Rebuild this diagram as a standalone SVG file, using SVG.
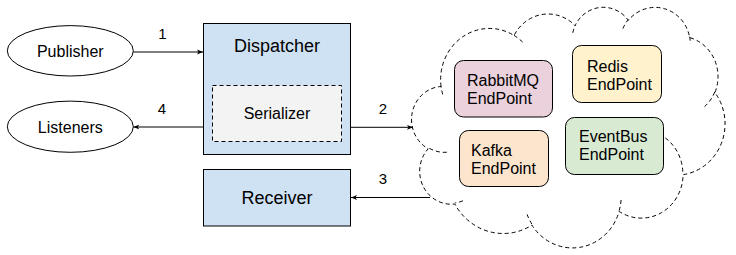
<svg xmlns="http://www.w3.org/2000/svg" width="736" height="255" viewBox="0 0 736 255">
  <defs>
    <style>
      .box { stroke: #000; stroke-width: 1; }
      .ell { fill: #fff; stroke: #000; stroke-width: 1; }
      .dash { fill: none; stroke: #000; stroke-width: 1; stroke-dasharray: 4 3; }
      .lbl { font-family: "Liberation Sans", Arial, sans-serif; fill: #000; }
      .c { text-anchor: middle; }
      .f16 { font-size: 16px; }
      .f18 { font-size: 18px; }
      .num { font-size: 15px; text-anchor: middle; }
      .conn { fill: none; stroke: #000; stroke-width: 1; marker-end: url(#arrow); }
    </style>
    <marker id="arrow" viewBox="0 0 10 10" refX="10" refY="5" markerWidth="6" markerHeight="6" orient="auto" markerUnits="userSpaceOnUse">
      <path d="M0,1 L10,5 L0,9 L2.5,5 Z" fill="#000"/>
    </marker>
  </defs>

  <rect width="736" height="255" fill="#fff"/>

  <!-- Message bus cloud holding the transport endpoints -->
  <g id="cloud">
    <path class="dash" style="fill:#fff" d="M441.07,86.5 A48.77,51.16 0 0 1 514.06,35.47 A38.52,40.46 0 0 1 575.08,25.63 A31.52,33.10 0 0 1 628.36,20.34 A35.08,36.71 0 0 1 689.64,37.57 A38.52,40.49 0 0 1 714.92,92.59 A48.93,51.33 0 0 1 683.04,174.67 A41.78,43.80 0 0 1 619.14,211.47 A48.76,51.30 0 0 1 531.93,225.12 A55.76,58.69 0 0 1 454.83,203.99 A31.49,32.95 0 0 1 428.17,148.76 A31.38,33.10 0 0 1 441.07,86.5 Z"/>
    <path class="dash" d="M446.79,152.23 A31.38,33.10 0 0 1 428.5,147.79
      M462.94,200.79 A31.49,32.95 0 0 1 454.93,202.91
      M531.91,224.12 A48.76,51.30 0 0 1 527.08,214.42
      M621.09,199.96 A48.76,51.30 0 0 1 619.17,210.59
      M659.39,134.29 A41.78,43.80 0 0 1 682.87,174.01
      M714.77,91.98 A38.52,40.49 0 0 1 704.31,106.88
      M689.68,36.71 A35.08,36.71 0 0 1 690.24,43.74
      M622.91,28.5 A35.08,36.71 0 0 1 628.27,19.52
      M572.81,32.78 A31.52,33.10 0 0 1 575.4,25.04
      M514.01,35.4 A48.77,51.16 0 0 1 523.39,42.9
      M442.71,94.4 A48.77,51.16 0 0 1 441.07,86.5"/>
  </g>

  <g id="publisher">
    <ellipse class="ell" cx="70.3" cy="50.8" rx="63" ry="25.2"/>
    <text class="lbl c f16" x="70.3" y="56.8">Publisher</text>
  </g>

  <g id="listeners">
    <ellipse class="ell" cx="70.3" cy="126.7" rx="63" ry="25.6"/>
    <text class="lbl c f16" x="70.3" y="132.7">Listeners</text>
  </g>

  <g id="dispatcher">
    <rect class="box" x="203.5" y="23.5" width="147" height="131" fill="#cfe2f3"/>
    <text class="lbl c f18" x="277" y="51.5">Dispatcher</text>
  </g>

  <g id="serializer">
    <rect class="dash" x="212.5" y="85.5" width="129" height="56" style="fill:#f3f3f3"/>
    <text class="lbl c f16" x="277" y="119">Serializer</text>
  </g>

  <g id="receiver">
    <rect class="box" x="203.5" y="169.5" width="147" height="56.5" fill="#cfe2f3"/>
    <text class="lbl c f18" x="277" y="204.3">Receiver</text>
  </g>

  <g id="rabbitmq-endpoint">
    <rect class="box" x="454.5" y="60.5" width="98" height="56.5" rx="9" fill="#ead1dc"/>
    <text class="lbl f16" x="467" y="86">RabbitMQ</text>
    <text class="lbl f16" x="467" y="104.4">EndPoint</text>
  </g>

  <g id="redis-endpoint">
    <rect class="box" x="572.5" y="45.5" width="89" height="57" rx="9" fill="#fff2cc"/>
    <text class="lbl f16" x="587" y="71.8">Redis</text>
    <text class="lbl f16" x="587" y="90.2">EndPoint</text>
  </g>

  <g id="kafka-endpoint">
    <rect class="box" x="459.5" y="130.5" width="89" height="56" rx="9" fill="#fce5cd"/>
    <text class="lbl f16" x="471" y="156">Kafka</text>
    <text class="lbl f16" x="471" y="174.4">EndPoint</text>
  </g>

  <g id="eventbus-endpoint">
    <rect class="box" x="565.5" y="117.5" width="98" height="57" rx="9" fill="#d9ead3"/>
    <text class="lbl f16" x="579" y="141.6">EventBus</text>
    <text class="lbl f16" x="579" y="160">EndPoint</text>
  </g>

  <!-- Numbered message flow -->
  <g id="connectors">
    <line class="conn" x1="133.3" y1="52" x2="203" y2="52"/>
    <line class="conn" x1="351" y1="127.3" x2="413" y2="127.3"/>
    <line class="conn" x1="430" y1="197.5" x2="351" y2="197.5"/>
    <line class="conn" x1="203" y1="127" x2="133.3" y2="127"/>
    <text class="lbl num" x="162.5" y="39">1</text>
    <text class="lbl num" x="383" y="114">2</text>
    <text class="lbl num" x="383" y="184.3">3</text>
    <text class="lbl num" x="162" y="114">4</text>
  </g>
</svg>
